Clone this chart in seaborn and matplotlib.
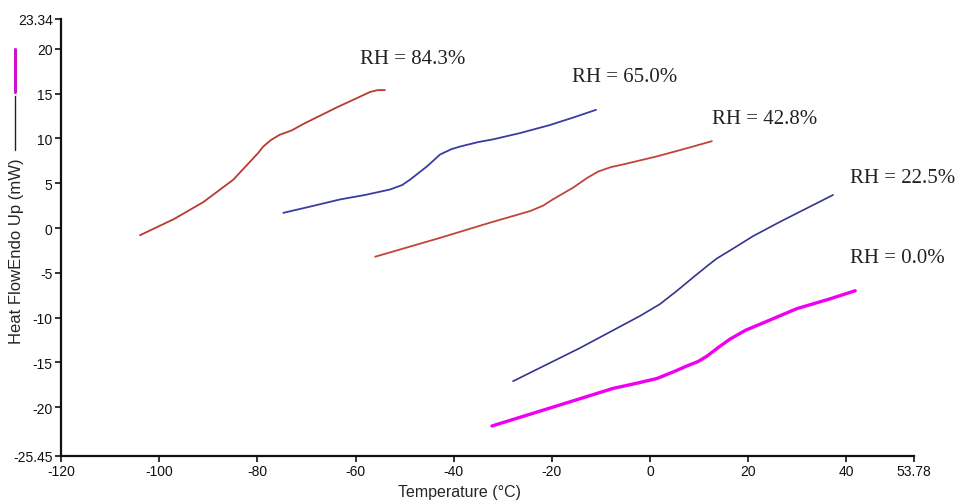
import matplotlib
matplotlib.use("Agg")
import numpy as np
import pandas as pd
import matplotlib.pyplot as plt
import seaborn as sns
from matplotlib.lines import Line2D

# DSC curves (temperature in °C, heat flow in mW)
t_843 = [-103.9, -97.0, -91.0, -84.9, -81.5, -79.8, -78.8, -77.3, -75.5, -73.0, -70.7, -63.7, -57.0, -55.5, -54.0]
h_843 = [-0.8, 1.0, 2.9, 5.4, 7.4, 8.4, 9.1, 9.8, 10.4, 10.9, 11.6, 13.5, 15.2, 15.4, 15.4]

t_650 = [-74.7, -69.2, -63.1, -58.0, -53.0, -50.5, -48.9, -45.4, -42.8, -40.5, -38.7, -35.0, -32.0, -26.5, -20.4, -15.3, -11.0]
h_650 = [1.7, 2.4, 3.2, 3.7, 4.3, 4.8, 5.4, 6.9, 8.2, 8.8, 9.1, 9.6, 9.9, 10.6, 11.5, 12.4, 13.2]

t_428 = [-56.0, -42.8, -32.6, -24.4, -21.8, -19.8, -15.7, -12.8, -10.6, -8.0, -5.5, 1.4, 8.1, 12.6]
h_428 = [-3.2, -1.1, 0.6, 1.9, 2.5, 3.2, 4.5, 5.6, 6.3, 6.8, 7.1, 8.0, 9.0, 9.7]

t_225 = [-27.9, -14.3, -2.0, 2.0, 5.5, 8.8, 11.5, 13.6, 16.9, 21.0, 26.5, 37.3]
h_225 = [-17.1, -13.4, -9.8, -8.5, -7.0, -5.5, -4.3, -3.4, -2.3, -0.9, 0.7, 3.7]

t_000 = [-32.2, -21.0, -7.5, -2.5, 1.4, 5.0, 7.5, 9.8, 11.6, 14.0, 16.3, 19.5, 23.0, 29.9, 36.7, 41.8]
h_000 = [-22.1, -20.2, -17.9, -17.3, -16.8, -16.0, -15.4, -14.9, -14.3, -13.3, -12.4, -11.4, -10.6, -9.0, -7.9, -7.0]

rh_labels = ["RH = 84.3%", "RH = 65.0%", "RH = 42.8%", "RH = 22.5%", "RH = 0.0%"]
label_x = [-59.1, -15.9, 12.6, 40.7, 40.7]
label_y = [18.9, 16.9, 12.2, 5.6, -3.3]

xticks = [-120, -100, -80, -60, -40, -20, 0, 20, 40, 53.78]
xtick_labels = ["-120", "-100", "-80", "-60", "-40", "-20", "0", "20", "40", "53.78"]
yticks = [-25.45, -20, -15, -10, -5, 0, 5, 10, 15, 20, 23.34]
ytick_labels = ["-25.45", "-20", "-15", "-10", "-5", "0", "5", "10", "15", "20", "23.34"]

sns.set_style("ticks")
plt.rcParams["font.family"] = ["Liberation Sans", "DejaVu Sans"]

fig = plt.figure(figsize=(9.62, 5.02), dpi=100)
ax = fig.add_axes([61 / 962, 1 - 457 / 502, 853 / 962, 437 / 502])

series = [
    (t_843, h_843, "#b83a32", 1.3),
    (t_650, h_650, "#3c3ca0", 1.3),
    (t_428, h_428, "#c0443a", 1.3),
    (t_225, h_225, "#34348c", 1.2),
    (t_000, h_000, "#f000f0", 2.4),
]
for t, h, c, lw in series:
    df = pd.DataFrame({"T": t, "H": h})
    sns.lineplot(data=df, x="T", y="H", color=c, linewidth=lw, ax=ax,
                 estimator=None, sort=False)

for txt, x, y in zip(rh_labels, label_x, label_y):
    ax.text(x, y, txt, ha="left", va="center", fontsize=15,
            family=["Liberation Serif", "DejaVu Serif"], color="#222222")

ax.set_xlim(-120, 53.78)
ax.set_ylim(-25.45, 23.34)
ax.set_xticks(xticks)
ax.set_xticklabels(xtick_labels, fontsize=10)
ax.set_yticks(yticks)
ax.set_yticklabels(ytick_labels, fontsize=10)
ax.tick_params(direction="out", length=4, width=1.2, colors="#111111", pad=2)
ax.set_xlabel("")
ax.set_ylabel("")
sns.despine(ax=ax)
for s in ["left", "bottom"]:
    ax.spines[s].set_linewidth(1.6)
    ax.spines[s].set_color("#111111")

# axis titles, placed as in the reference
fig.text(460 / 962, 1 - 493 / 502, "Temperature (°C)", ha="center", va="center",
         fontsize=11.5)
fig.text(17 / 962, 1 - 251 / 502, "Heat FlowEndo Up (mW)", rotation=90,
         ha="center", va="center", fontsize=12)
fig.add_artist(Line2D([15 / 962, 15 / 962], [1 - 50 / 502, 1 - 93 / 502],
                      color="#d010d0", lw=2.2))
fig.add_artist(Line2D([15 / 962, 15 / 962], [1 - 97 / 502, 1 - 151 / 502],
                      color="#222222", lw=1.0))

fig.savefig("out.png", dpi=100)
